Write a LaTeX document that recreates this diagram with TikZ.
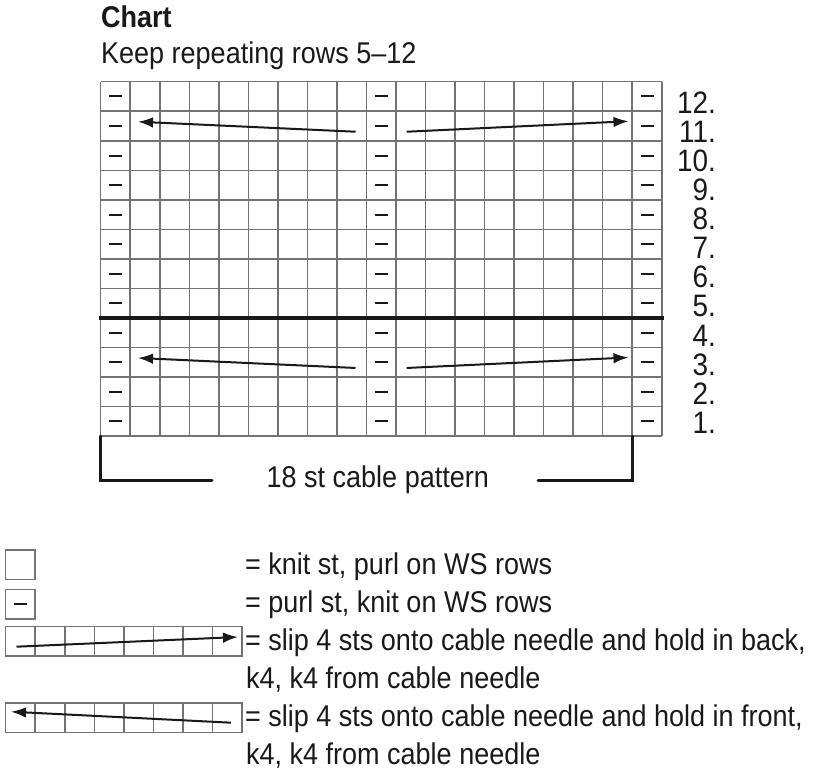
\documentclass[tikz,border=0pt]{standalone}
\usepackage{fontspec}
\setmainfont[FakeStretch=0.9]{Liberation Sans}
\usetikzlibrary{arrows.meta}
\begin{document}
\begin{tikzpicture}[x=1pt,y=-1pt,
  gridline/.style={draw=black!55,line width=1.5pt},
  purldash/.style={draw=black!90,line width=2pt},
  cablearrow/.style={draw=black!90,line width=2pt,-{Latex[length=15pt,width=10.5pt]}},
  bracketline/.style={draw=black!90,line width=3pt,line cap=round,line join=miter},
  txt/.style={inner sep=0pt,anchor=base west,font=\fontsize{30}{36}\selectfont,text=black!90},
  rowlab/.style={inner sep=0pt,anchor=base east,font=\fontsize{31}{36}\selectfont,text=black!90}]
\useasboundingbox (0,0) rectangle (816,770);
\def\s{29.53}
\def\xo{100.7}
\def\yo{81.7}
% titles
\node[txt,font=\bfseries\fontsize{30}{36}\selectfont] (title) at (101,27.5) {Chart};
\node[txt] (sub) at (101,63.5) {Keep repeating rows 5–12};
% grid
\foreach \i in {0,...,19} \draw[gridline] ({\xo+\i*\s},\yo) -- ({\xo+\i*\s},{\yo+12*\s});
\foreach \j in {0,...,12} \draw[gridline] (\xo,{\yo+\j*\s}) -- ({\xo+19*\s},{\yo+\j*\s});
% purl dashes
\foreach \c in {0,9,18}
  \foreach \r in {0,...,11}
    \draw[purldash] ({\xo+(\c+0.5)*\s-6.5},{\yo+(\r+0.5)*\s}) -- ({\xo+(\c+0.5)*\s+6.5},{\yo+(\r+0.5)*\s});
% thick separator
\draw[draw=black!90,line width=4pt] (99,{\yo+8*\s}) -- (664,{\yo+8*\s});
% cable arrows (rows 11 and 3)
\foreach \r/\nm in {1/a,9/b}{
  \coordinate (\nm Ltail) at (355.5,{\yo+\r*\s+20.5});
  \coordinate (\nm Ltip)  at (138,{\yo+\r*\s+10.5});
  \coordinate (\nm Rtail) at (406.7,{\yo+\r*\s+20.5});
  \coordinate (\nm Rtip)  at (628.5,{\yo+\r*\s+10});
  \draw[cablearrow] (\nm Ltail) -- (\nm Ltip);
  \draw[cablearrow] (\nm Rtail) -- (\nm Rtip);
}
% row labels
\foreach \n in {1,...,12}
  \node[rowlab] (row\n) at (716,{113.3+(12-\n)*29.09}) {\n.};
% bracket
\coordinate (bl0) at (\xo,{\yo+12*\s});
\coordinate (bl1) at (\xo,480);
\coordinate (bl2) at (212,480);
\coordinate (br0) at ({\xo+18*\s},{\yo+12*\s});
\coordinate (br1) at ({\xo+18*\s},480);
\coordinate (br2) at (538,480);
\draw[bracketline] (bl0) -- (bl1) -- (bl2);
\draw[bracketline] (br2) -- (br1) -- (br0);
\node[txt] (cablelab) at (266.5,487) {18 st cable pattern};
% legend symbols
\draw[gridline] (5.7,550) rectangle ++(\s,\s);
\draw[gridline] (5.7,589.5) rectangle ++(\s,\s);
\draw[purldash] ({5.7+\s/2-6.5},{589.5+\s/2}) -- ({5.7+\s/2+6.5},{589.5+\s/2});
\foreach \yy in {626.3,703}{
  \draw[gridline] (5.7,\yy) rectangle ++({8*\s},\s);
  \foreach \k in {1,...,7} \draw[gridline] ({5.7+\k*\s},\yy) -- ++(0,\s);
}
\coordinate (lc1tail) at (16.5,646.7);
\coordinate (lc1tip) at (238,637);
\coordinate (lc2tail) at (231,722.7);
\coordinate (lc2tip) at (11,711.7);
\draw[cablearrow] (lc1tail) -- (lc1tip);
\draw[cablearrow] (lc2tail) -- (lc2tip);
% legend text
\node[txt] (l1) at (245,574) {= knit st, purl on WS rows};
\node[txt] (l2) at (245,612) {= purl st, knit on WS rows};
\node[txt] (l3) at (245,650) {= slip 4 sts onto cable needle and hold in back,};
\node[txt] (l4) at (246,688) {k4, k4 from cable needle};
\node[txt] (l5) at (245,726) {= slip 4 sts onto cable needle and hold in front,};
\node[txt] (l6) at (246,764) {k4, k4 from cable needle};
\end{tikzpicture}
\end{document}
